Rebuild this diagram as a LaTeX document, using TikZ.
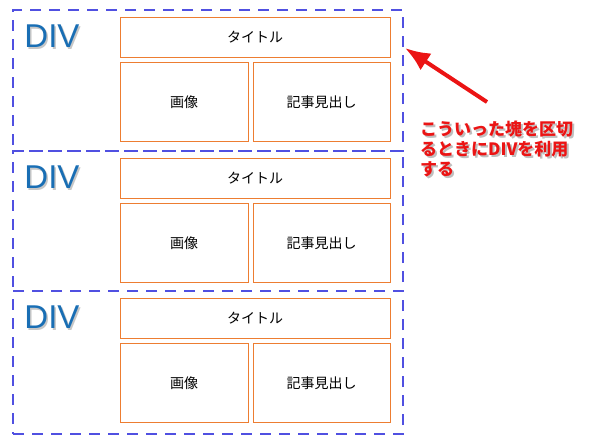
\documentclass[tikz,border=0pt]{standalone}
\usepackage{fontspec}
\setmainfont{Liberation Sans}
\newfontfamily\jp{Noto Sans CJK JP}
\usepackage{tikz}
\usetikzlibrary{calc,arrows.meta,positioning}

\definecolor{divblue}{RGB}{25,110,180}
\definecolor{dashblue}{RGB}{80,80,225}
\definecolor{boxorange}{RGB}{237,125,49}
\definecolor{notered}{RGB}{235,20,20}

\tikzset{
  divbox/.style={draw=dashblue,line width=1.2pt,dash pattern=on 11pt off 8pt,inner sep=0pt},
  partbox/.style={draw=boxorange,line width=0.9pt,inner sep=0pt,font=\jp\fontsize{14}{16}\selectfont},
  divlabel/.style={text=divblue,font=\fontsize{33}{36}\selectfont},
  divshadow/.style={text=black!22,font=\fontsize{33}{36}\selectfont},
  notetext/.style={text=notered,anchor=north west,align=left,inner sep=0pt,
    font=\jp\bfseries\fontsize{17}{20}\selectfont},
  noteshadow/.style={notetext,text=black!25}
}

\begin{document}
\begin{tikzpicture}[x=1pt,y=-1pt]
% Canvas
\useasboundingbox (0,0) rectangle (605,447);

% Blocks: div frame, label, title, image, heading
\foreach \i/\top/\h in {1/10/141,2/151/140,3/291/143} {
  \node[divbox,minimum width=390pt,minimum height=\h pt] (div\i) at (208,\top+\h/2) {};
  \node[divshadow] (divs\i) at (53.5,\top+28) {DIV};
  \node[divlabel] (divl\i) at (52,\top+26.5) {DIV};
  \node[partbox,minimum width=270pt,minimum height=40pt] (title\i) at (255,\top+27) {タイトル};
  \node[partbox,minimum width=128pt,minimum height=79pt,below=5pt of title\i.south west,anchor=north west] (image\i) {画像};
  \node[partbox,minimum width=137pt,minimum height=79pt,anchor=north east] (head\i) at (image\i.north -| title\i.east) {記事見出し};
}

% Note
\node[noteshadow] (notes) at (422,122.5) {こういった塊を区切\\るときにDIVを利用\\する};
\node[notetext] (note) at (420,121) {こういった塊を区切\\るときにDIVを利用\\する};

% Arrow
\coordinate (arrowtail) at (487,102);
\coordinate (arrowtip) at (405,48);
\draw[notered,line width=4pt,-{Latex[length=25pt,width=20pt]}] (arrowtail) -- (arrowtip);

\end{tikzpicture}
\end{document}
